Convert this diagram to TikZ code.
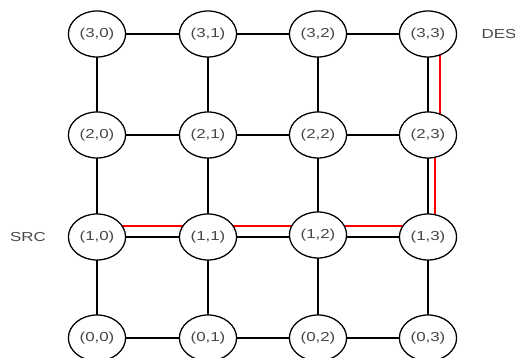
\documentclass[tikz,border=0pt]{standalone}
\usepackage{fontspec}
\setmainfont{Liberation Sans}
\usetikzlibrary{shapes.geometric,backgrounds}
\tikzset{
	cell/.style={ellipse, draw, line width=0.45mm, fill=white, minimum width=44pt, minimum height=46pt, inner sep=0pt, xscale=1.3, transform shape, text=black!72, font=\fontsize{13}{13}\selectfont},
	tag/.style={xscale=1.3, transform shape, text=black!72, font=\fontsize{13}{13}\selectfont},
	link/.style={line width=0.8mm},
	route/.style={line width=0.75mm, color=red}
}

\begin{document}
\begin{tikzpicture}[x=1pt, y=1pt]
		%%%%% START %%%%%
		\useasboundingbox (0, 0) rectangle (515, 358);
		
		\node[cell] (n30) at (97, 324) {(3,0)};
		\node[cell] (n31) at (208, 324) {(3,1)};
		\node[cell] (n32) at (318, 324) {(3,2)};
		\node[cell] (n33) at (428, 324) {(3,3)};
		
		\node[cell] (n20) at (97, 223) {(2,0)};
		\node[cell] (n21) at (208, 223) {(2,1)};
		\node[cell] (n22) at (318, 223) {(2,2)};
		\node[cell] (n23) at (428, 223) {(2,3)};
		
		\node[cell] (n10) at (97, 121) {(1,0)};
		\node[cell] (n11) at (208, 121) {(1,1)};
		\node[cell] (n12) at (318, 123) {(1,2)};
		\node[cell] (n13) at (428, 121) {(1,3)};
		
		\node[cell] (n00) at (97, 20) {(0,0)};
		\node[cell] (n01) at (208, 20) {(0,1)};
		\node[cell] (n02) at (318, 20) {(0,2)};
		\node[cell] (n03) at (428, 20) {(0,3)};
		
		\node[tag] (src) at (28, 121) {SRC};
		\node[tag] (des) at (499, 324) {DES};
		
		\begin{pgfonlayer}{background}
			% rows
			\draw[link] (n30.center) -- (n33.center);
			\draw[link] (n20.center) -- (n23.center);
			\draw[link] (n10.center) -- (n11.center) -- (n13.center);
			\draw[link] (n00.center) -- (n03.center);
			
			% columns
			\draw[link] (n00.center) -- (n30.center);
			\draw[link] (n01.center) -- (n31.center);
			\draw[link] (n02.center) -- (n12.center) -- (n32.center);
			\draw[link] (n03.center) -- (n33.center);
			
			% path from SRC to DES
			\draw[route, transform canvas={yshift=11pt}] (n10.center) -- (n13.center);
			\draw[route, transform canvas={xshift=7pt}] (n13.center) -- (n23.center);
			\draw[route, transform canvas={xshift=12pt}] (n23.center) -- (n33.center);
		\end{pgfonlayer}
		
		%%%%% END %%%%%
	\end{tikzpicture}
\end{document}
